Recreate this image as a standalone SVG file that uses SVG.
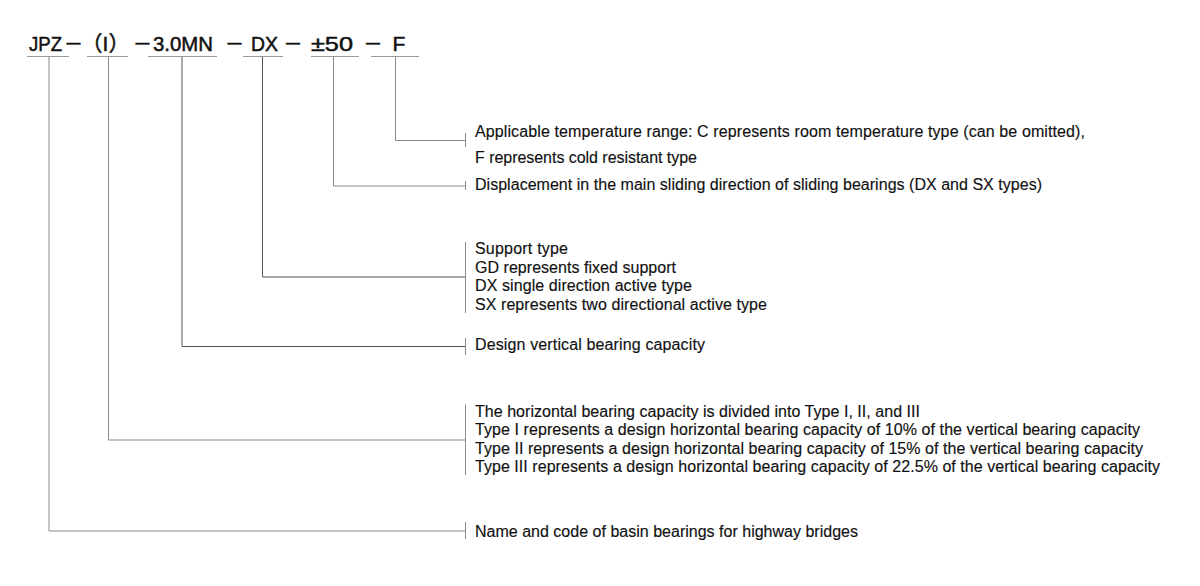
<svg xmlns="http://www.w3.org/2000/svg" width="1200" height="586" viewBox="0 0 1200 586">
<style>
.bg{fill:#ffffff}
.t{font-family:"Liberation Sans","Noto Sans CJK SC",sans-serif;font-size:21px;fill:#111;stroke:#111;stroke-width:0.5;text-anchor:middle}
.dash{font-size:19px}
.d{font-family:"Liberation Sans",sans-serif;font-size:16px;fill:#111;stroke:#111;stroke-width:0.15}
.ul{stroke:#9a9a9a;stroke-width:1;fill:none}
.c{stroke:#8a8a8a;stroke-width:1;fill:none}
.cd{stroke:#555;stroke-width:1;fill:none}
.tk{stroke:#8a8a8a;stroke-width:1;fill:none}
</style>
<rect class="bg" x="0" y="0" width="1200" height="586"/>
<g id="code">
<text class="t" y="51"><tspan x="45.5" textLength="33" lengthAdjust="spacingAndGlyphs">JPZ</tspan><tspan class="dash" x="73.5">－</tspan><tspan x="105.5">（I）</tspan><tspan class="dash" x="142.5">－</tspan><tspan x="183" textLength="60" lengthAdjust="spacingAndGlyphs">3.0MN</tspan><tspan class="dash" x="234.5">－</tspan><tspan x="264.5" textLength="27" lengthAdjust="spacingAndGlyphs">DX</tspan><tspan class="dash" x="293">－</tspan><tspan x="332" textLength="42" lengthAdjust="spacingAndGlyphs">±50</tspan><tspan class="dash" x="373">－</tspan><tspan x="399">F</tspan></text>
<path class="ul" d="M27 56.5H69M87 56.5H128M148 56.5H217M243 56.5H283M311 56.5H359M371 56.5H419"/>
</g>
<g id="connectors">
<path class="c" d="M395.5 57V140.5H465"/>
<path class="c" d="M333.5 57V186H465"/>
<path class="cd" d="M262.5 57V277H465"/>
<path class="cd" d="M182 57V346.5H465"/>
<path class="c" d="M108.5 57V440H465"/>
<path class="c" d="M49 57V531H465"/>
<path class="tk" d="M465.5 133V147M465.5 181V190M465.5 242V313M465.5 338V355M465.5 404.5V475M465.5 522V539"/>
</g>
<g id="node-temperature">
<text class="d" x="475" y="137" textLength="610" lengthAdjust="spacing">Applicable temperature range: C represents room temperature type (can be omitted),</text>
<text class="d" x="475" y="162.5" textLength="222" lengthAdjust="spacing">F represents cold resistant type</text>
</g>
<g id="node-displacement">
<text class="d" x="475" y="189.5" textLength="567" lengthAdjust="spacing">Displacement in the main sliding direction of sliding bearings (DX and SX types)</text>
</g>
<g id="node-support">
<text class="d" x="475" y="254" textLength="93" lengthAdjust="spacing">Support type</text>
<text class="d" x="475" y="272.5" textLength="201" lengthAdjust="spacing">GD represents fixed support</text>
<text class="d" x="475" y="291" textLength="217" lengthAdjust="spacing">DX single direction active type</text>
<text class="d" x="475" y="309.5" textLength="292" lengthAdjust="spacing">SX represents two directional active type</text>
</g>
<g id="node-vertical">
<text class="d" x="475" y="350" textLength="230" lengthAdjust="spacing">Design vertical bearing capacity</text>
</g>
<g id="node-horizontal">
<text class="d" x="475" y="416.5" textLength="445" lengthAdjust="spacing">The horizontal bearing capacity is divided into Type I, II, and III</text>
<text class="d" x="475" y="435" textLength="665" lengthAdjust="spacing">Type I represents a design horizontal bearing capacity of 10% of the vertical bearing capacity</text>
<text class="d" x="475" y="453.5" textLength="668" lengthAdjust="spacing">Type II represents a design horizontal bearing capacity of 15% of the vertical bearing capacity</text>
<text class="d" x="475" y="472" textLength="685" lengthAdjust="spacing">Type III represents a design horizontal bearing capacity of 22.5% of the vertical bearing capacity</text>
</g>
<g id="node-name">
<text class="d" x="475" y="536.5" textLength="383" lengthAdjust="spacing">Name and code of basin bearings for highway bridges</text>
</g>
</svg>
